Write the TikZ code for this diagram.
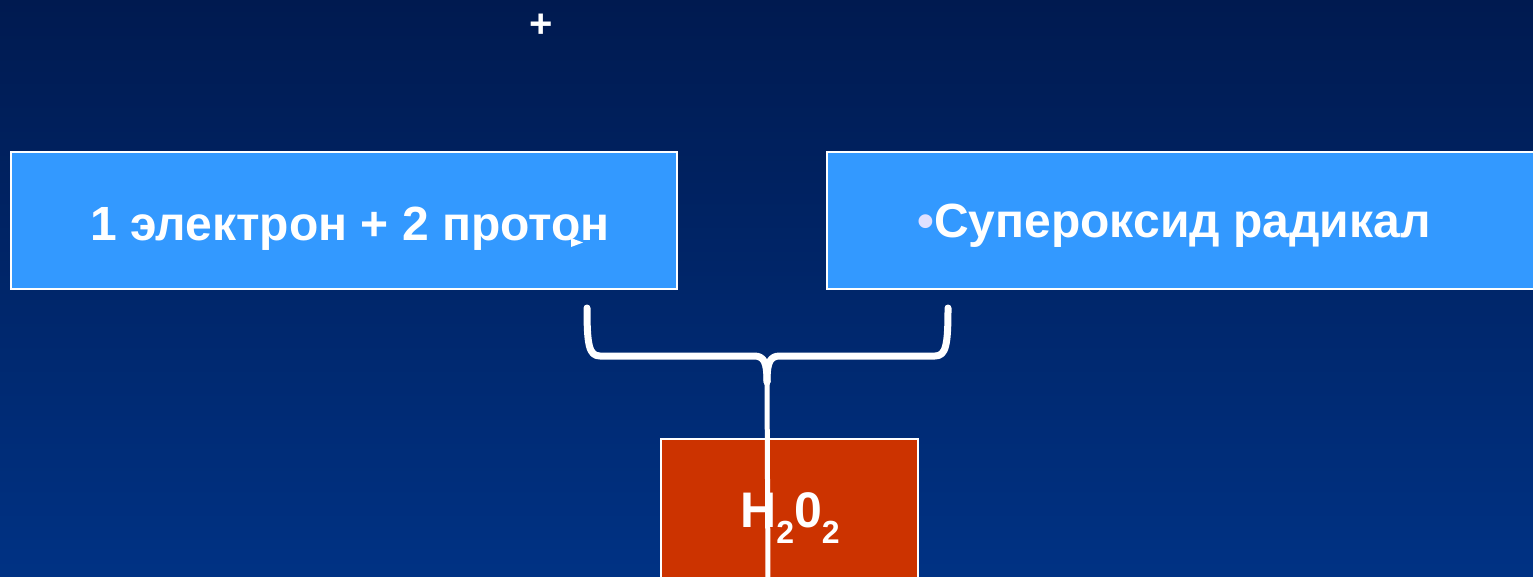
\documentclass[tikz,border=0pt]{standalone}
\usepackage{fontspec}
\setmainfont{Liberation Sans}
\definecolor{bgtop}{RGB}{0,26,80}
\definecolor{bgbot}{RGB}{0,50,132}
\definecolor{boxblue}{RGB}{51,153,255}
\definecolor{boxred}{RGB}{204,51,0}
\definecolor{bulletc}{RGB}{224,224,255}
\tikzset{
  bluebox/.style={draw=white, line width=2pt, fill=boxblue, minimum height=137pt, inner sep=0pt},
  redbox/.style={draw=white, line width=2pt, fill=boxred, inner sep=0pt},
  boxtext/.style={text=white, font=\fontsize{48}{52}\selectfont\bfseries, anchor=base, inner sep=0pt},
  bracel/.style={draw=white, line width=7pt, line cap=round, line join=round},
}
\begin{document}
\begin{tikzpicture}[x=1pt,y=-1pt]
\useasboundingbox (0,0) rectangle (1533,576);
\shade[top color=bgtop, bottom color=bgbot] (0,0) rectangle (1533,576);
\begin{scope}
\clip (0,0) rectangle (1533,576);
\node[bluebox, minimum width=666pt] (L) at (344,220.5) {};
\node[boxtext] (Lt) at (350,240) {1 электрон + 2 протон};
\fill[white] (571,238) -- (583,242.5) -- (571,247) -- cycle;
\node[bluebox, minimum width=708pt] (R) at (1181,220.5) {};
\node[boxtext] (Rt) at (1174,237) {{\color{bulletc}•}Супероксид радикал};
\node[redbox, minimum width=257pt, minimum height=150pt] (H) at (789.5,514) {};
\node[text=white, font=\fontsize{50}{54}\selectfont\bfseries, anchor=base, inner sep=0pt] (Ht) at (790,527) {H\raisebox{-0.32em}{\fontsize{32}{34}\selectfont 2}0\raisebox{-0.32em}{\fontsize{32}{34}\selectfont 2}};
\coordinate (bl) at (587,308);
\coordinate (br) at (948,308);
\coordinate (bc) at (767,382);
\coordinate (bb) at (768,580);
\draw[bracel] (bl) .. controls (587,345) and (589,356) .. (600,356) -- (754,356) .. controls (764,356) and (767,362) .. (bc);
\draw[bracel] (br) .. controls (948,345) and (946,356) .. (935,356) -- (780,356) .. controls (770,356) and (767,362) .. (bc);
\draw[white, line width=5pt] (bc) -- (bb);
\end{scope}
\node[text=white, font=\fontsize{40}{42}\selectfont\bfseries, inner sep=0pt] (P) at (541,26) {+};
\end{tikzpicture}
\end{document}
